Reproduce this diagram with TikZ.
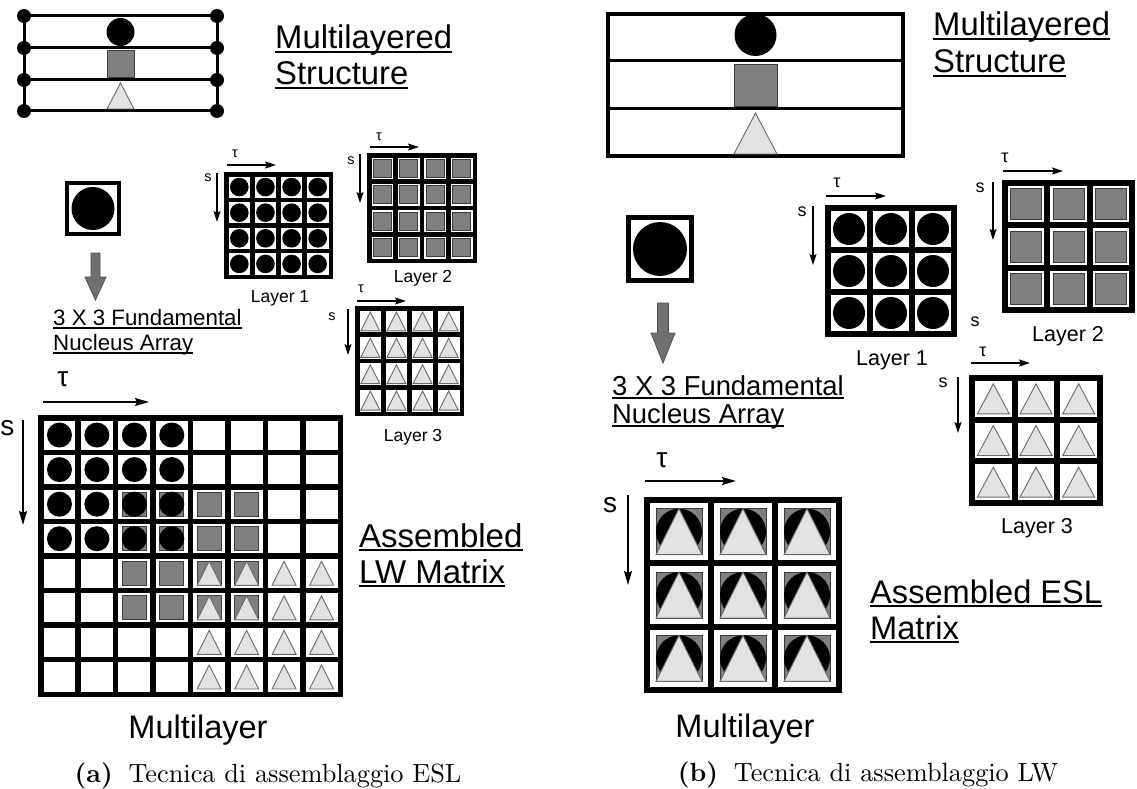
\documentclass[tikz,border=0pt]{standalone}
\usepackage{fontspec}
\newfontfamily\arialfont{Liberation Sans}
\newfontfamily\capfont{lmroman10-regular.otf}[BoldFont=lmroman10-bold.otf]
\usepackage{tikz}
\usetikzlibrary{calc,positioning,arrows.meta}
\definecolor{sqgray}{HTML}{7F7F7F}
\definecolor{sqedge}{HTML}{3C3C3C}
\definecolor{trigray}{HTML}{E2E2E2}
\definecolor{triedge}{HTML}{6A6A6A}
\definecolor{arrgray}{HTML}{707070}
\newcommand{\fsz}[1]{\fontsize{#1}{#1}\selectfont}
\newcommand{\nucdot}[1]{\fill[black] (\cx,\cy) circle (#1pt);}
\newcommand{\nucsq}[1]{\filldraw[sqbox] ({\cx-#1},{\cy-#1}) rectangle ({\cx+#1},{\cy+#1});}
\newcommand{\nuctri}[2]{\filldraw[tribox] (\cx,{\cy-#2}) -- ({\cx-#1},{\cy+#2}) -- ({\cx+#1},{\cy+#2}) -- cycle;}
% grid: left top right bottom n line {cell content}
\newcommand{\nucgrid}[7]{%
  \fill[black] (#1,#2) rectangle (#3,#4);
  \pgfmathsetmacro\cw{(#3-#1-#6)/#5}%
  \pgfmathsetmacro\ch{(#4-#2-#6)/#5}%
  \foreach \ci in {1,...,#5}{\foreach \ri in {1,...,#5}{%
    \fill[white] ({#1+#6+(\ci-1)*\cw},{#2+#6+(\ri-1)*\ch}) rectangle ({#1+\ci*\cw},{#2+\ri*\ch});
    \pgfmathsetmacro\cx{#1+#6/2+(\ci-0.5)*\cw}%
    \pgfmathsetmacro\cy{#2+#6/2+(\ri-0.5)*\ch}%
    #7}}}
\tikzset{
  lbl/.style={inner sep=0pt, font={\arialfont\fsz{#1}}},
  captxt/.style={inner sep=0pt, anchor=base, font={\capfont\fsz{26.3}}},
  sqbox/.style={fill=sqgray, draw=sqedge, line width=0.9pt},
  tribox/.style={fill=trigray, draw=triedge, line width=0.9pt},
  axarr/.style={-{Stealth[length=11pt,width=7pt,inset=2pt]}, line width=1.3pt},
  axarrbig/.style={-{Stealth[length=14pt,width=8pt,inset=2pt]}, line width=1.7pt},
  grayarr/.style={fill=arrgray, draw=arrgray!70!black, line width=0.8pt},
  uline/.style={line width=1.8pt},
}

\begin{document}
\begin{tikzpicture}[x=1pt,y=-1pt]
	\useasboundingbox (0,0) rectangle (1137,789);
	% ---- (a) ----
	\foreach \y in {16,48,80,111} \draw[line width=3pt] (24,\y) -- (217,\y);
	\draw[line width=3pt] (24,16) -- (24,111) (217,16) -- (217,111);
	\foreach \y in {16,48,80,111} {\fill (24,\y) circle (7pt); \fill (217,\y) circle (7pt);}
	\fill (120.5,32) circle (14pt);
	\filldraw[sqbox] (107,50) rectangle (134,77);
	\filldraw[tribox] (120.5,83) -- (107,109) -- (134,109) -- cycle;
	\node[lbl=32.8, anchor=base west] (mlA1) at (275,49) {Multilayered};
	\node[lbl=32.8, anchor=base west] (mlA2) at (275,85) {Structure};

	\draw[line width=4pt] (67,183) rectangle (119,234);
	\fill (93,208.5) circle (21.5pt);
	\filldraw[grayarr] (91,253) -- (100,253) -- (100,277) -- (106,277) -- (95.5,300) -- (85,277) -- (91,277) -- cycle;
	\node[lbl=22.3, anchor=base west] (fnA1) at (53,325) {3 X 3 Fundamental};
	\node[lbl=22.3, anchor=base west] (fnA2) at (53,350) {Nucleus Array};

	\nucgrid{224}{172}{333}{279}{4}{4.5}{\nucdot{9.3}}
	\nucgrid{367}{153}{477}{263}{4}{4.5}{\nucsq{9}}
	\nucgrid{355}{306}{464}{416}{4}{4.5}{\nuctri{9.5}{9.5}}
	\node[lbl=14.5] (tauA1) at (235,154) {τ};
	\node[lbl=14.5] (sA1) at (208,178) {s};
	\draw[axarr] (227,165) -- (276,165);
	\draw[axarr] (217,173) -- (217,222);
	\node[lbl=14.5] (tauA2) at (379,137) {τ};
	\node[lbl=14.5] (sA2) at (351,161) {s};
	\draw[axarr] (370,147) -- (419,147);
	\draw[axarr] (360,154) -- (360,203);
	\node[lbl=14.5] (tauA3) at (361,289) {τ};
	\node[lbl=14.5] (sA3) at (332,317) {s};
	\draw[axarr] (357,301) -- (406,301);
	\draw[axarr] (348,309) -- (348,355);
	\node[lbl=17.5] (lyA1) at (280,298) {Layer 1};
	\node[lbl=17.5] (lyA2) at (423,278) {Layer 2};
	\node[lbl=17.5] (lyA3) at (413,437) {Layer 3};

	% assembled LW matrix
	\nucgrid{38}{415}{343}{697}{8}{5.5}{}
	\foreach \ci in {2,...,5}{\foreach \ri in {2,...,5}{%
		\pgfmathsetmacro\cx{40.75+(\ci+0.5)*\cw}\pgfmathsetmacro\cy{417.75+(\ri+0.5)*\ch}\nucsq{12}}}
	\foreach \ci in {0,...,3}{\foreach \ri in {0,...,3}{%
		\pgfmathsetmacro\cx{40.75+(\ci+0.5)*\cw}\pgfmathsetmacro\cy{417.75+(\ri+0.5)*\ch}\nucdot{12.5}}}
	\foreach \ci in {4,...,7}{\foreach \ri in {4,...,7}{%
		\pgfmathsetmacro\cx{40.75+(\ci+0.5)*\cw}\pgfmathsetmacro\cy{417.75+(\ri+0.5)*\ch}\nuctri{12}{12}}}
	\node[lbl=28] (tauA) at (63,379) {τ};
	\node[lbl=28] (sA) at (7.5,428) {s};
	\draw[axarrbig] (43,402) -- (149,402);
	\draw[axarrbig] (23,420) -- (23,525);
	\node[lbl=33, anchor=base west] (asA1) at (359,547) {Assembled};
	\node[lbl=33, anchor=base west] (asA2) at (359,583) {LW Matrix};
	\node[lbl=32.5, anchor=base] (mlyA) at (198,738) {Multilayer};
	\node[captxt] (capA) at (268,782) {\textbf{(a)}\hspace{0.6em}Tecnica di assemblaggio ESL};

	% ---- (b) ----
	\draw[line width=4pt] (608,14) rectangle (903,156);
	\draw[line width=3pt] (606,61) -- (905,61) (606,109) -- (905,109);
	\fill (755.5,35) circle (21pt);
	\filldraw[sqbox] (734,64) rectangle (777,106);
	\filldraw[tribox] (755.5,113) -- (734,154) -- (777,154) -- cycle;
	\node[lbl=32.8, anchor=base west] (mlB1) at (933,36) {Multilayered};
	\node[lbl=32.8, anchor=base west] (mlB2) at (933,73) {Structure};

	\draw[line width=5pt] (628.5,217.5) rectangle (691.5,280.5);
	\fill (660,249) circle (27pt);
	\filldraw[grayarr] (657.5,303) -- (668.5,303) -- (668.5,333) -- (675,333) -- (663,363) -- (651,333) -- (657.5,333) -- cycle;
	\node[lbl=27.4, anchor=base west] (fnB1) at (612,395) {3 X 3 Fundamental};
	\node[lbl=27.4, anchor=base west] (fnB2) at (612,423) {Nucleus Array};

	\nucgrid{825}{205}{957}{337}{3}{6}{\nucdot{16}}
	\nucgrid{1002}{180}{1135}{313}{3}{6}{\nucsq{15.5}}
	\nucgrid{969}{375}{1103}{506}{3}{6}{\nuctri{16}{15}}
	\node[lbl=18] (tauB1) at (837,183) {τ};
	\node[lbl=18] (sB1) at (802,212) {s};
	\draw[axarr] (826,196) -- (886,196);
	\draw[axarr] (813,206) -- (813,265);
	\node[lbl=18] (sB1b) at (975,322) {s};
	\node[lbl=18] (tauB2) at (1005,158) {τ};
	\node[lbl=18] (sB2) at (980,188) {s};
	\draw[axarr] (1003,171) -- (1063,171);
	\draw[axarr] (993,182) -- (993,240);
	\node[lbl=18] (tauB3) at (983,352) {τ};
	\node[lbl=18] (sB3) at (943,383) {s};
	\draw[axarr] (971,363) -- (1030,363);
	\draw[axarr] (958,377) -- (958,433);
	\node[lbl=21.5] (lyB1) at (892,360) {Layer 1};
	\node[lbl=21.5] (lyB2) at (1068,336) {Layer 2};
	\node[lbl=21.5] (lyB3) at (1037,528) {Layer 3};

	% assembled ESL matrix
	\nucgrid{644}{497}{842}{693}{3}{6}{\nucsq{23}\nucdot{23}\nuctri{23}{23}}
	\node[lbl=28] (tauB) at (662,460) {τ};
	\node[lbl=28] (sB) at (610,505) {s};
	\draw[axarrbig] (645,481) -- (736,481);
	\draw[axarrbig] (628,495) -- (628,585);
	\node[lbl=32.6, anchor=base west] (asB1) at (870,603) {Assembled ESL};
	\node[lbl=32.6, anchor=base west] (asB2) at (870,639) {Matrix};
	\node[lbl=32.5, anchor=base] (mlyB) at (745,737) {Multilayer};
	\node[captxt] (capB) at (868,781) {\textbf{(b)}\hspace{0.6em}Tecnica di assemblaggio LW};

	\foreach \n in {mlA1,mlA2,fnA1,fnA2,asA1,asA2,mlB1,mlB2,fnB1,fnB2,asB1,asB2}
		\draw[uline] ([yshift=-3pt]\n.base west) -- ([yshift=-3pt]\n.base east);
\end{tikzpicture}
\end{document}
